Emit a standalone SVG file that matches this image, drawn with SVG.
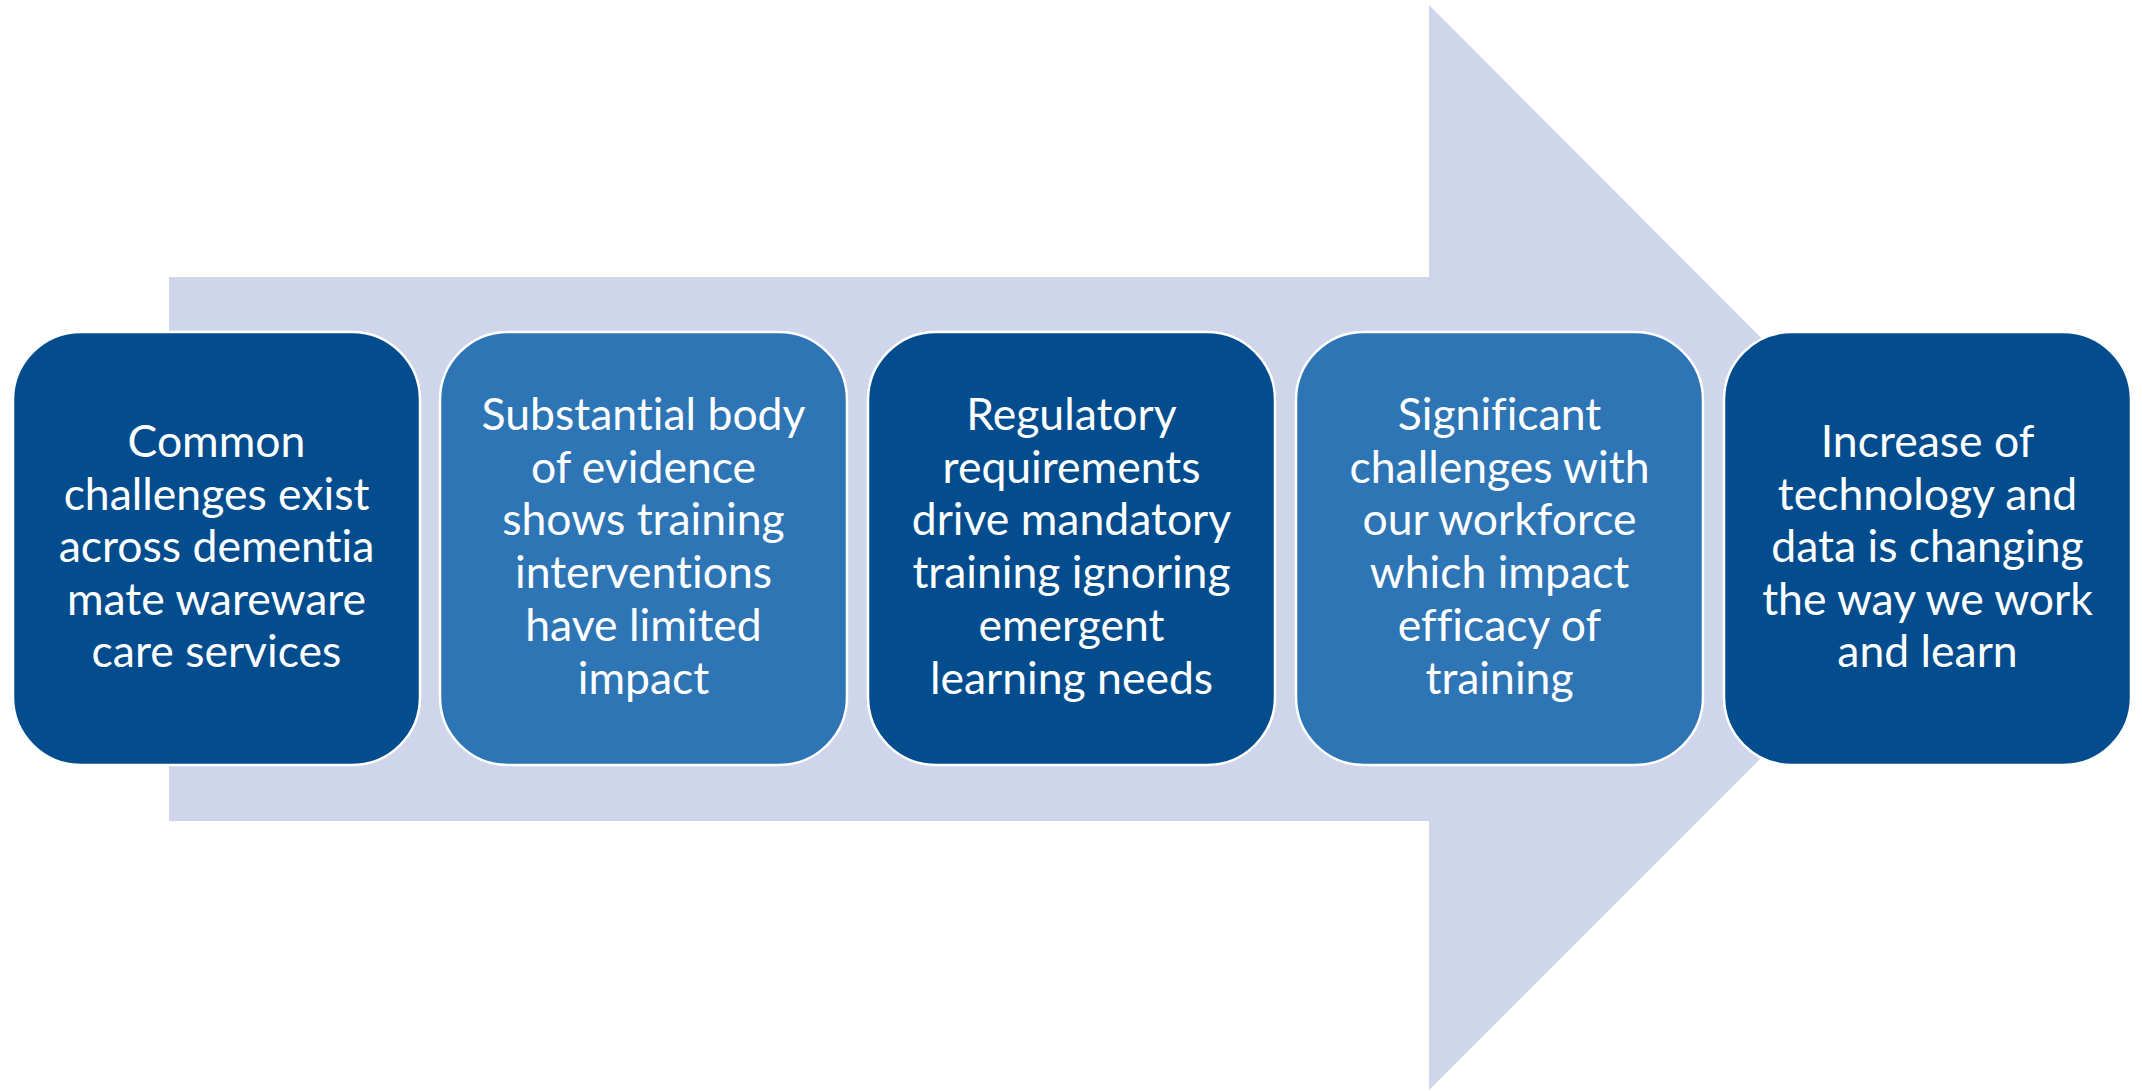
<svg xmlns="http://www.w3.org/2000/svg" width="2142" height="1091" viewBox="0 0 2142 1091">
<style>
.box{stroke:#ffffff;stroke-width:2.5}
.dark{fill:#034D8E}
.light{fill:#2E75B6}
.lbl{font-family:Lato,"Open Sans","Liberation Sans",sans-serif;font-size:44.5px;fill:#ffffff;text-anchor:middle;font-variant-ligatures:none;font-feature-settings:"liga" 0,"clig" 0,"dlig" 0}
</style>
<rect width="2142" height="1091" fill="#ffffff"/>
<g id="connectors">
<polygon points="169,277 1429,277 1429,5 1971,548 1429,1090 1429,821 169,821" fill="#CFD5EA"/>
</g>
<g id="node1">
<rect class="box dark" x="13" y="332" width="407" height="433" rx="68" ry="68"/>
<text class="lbl" x="216.5"><tspan x="216.5" y="457">Common</tspan><tspan x="216.5" y="509.5">challenges exist</tspan><tspan x="216.5" y="562">across dementia</tspan><tspan x="216.5" y="614.5">mate wareware</tspan><tspan x="216.5" y="667">care services</tspan></text>
</g>
<g id="node2">
<rect class="box light" x="440" y="332" width="407" height="433" rx="68" ry="68"/>
<text class="lbl"><tspan x="643.5" y="430">Substantial body</tspan><tspan x="643.5" y="482.7">of evidence</tspan><tspan x="643.5" y="535.4">shows training</tspan><tspan x="643.5" y="588.1">interventions</tspan><tspan x="643.5" y="640.8">have limited</tspan><tspan x="643.5" y="693.5">impact</tspan></text>
</g>
<g id="node3">
<rect class="box dark" x="868" y="332" width="407" height="433" rx="68" ry="68"/>
<text class="lbl"><tspan x="1071.5" y="430">Regulatory</tspan><tspan x="1071.5" y="482.7">requirements</tspan><tspan x="1071.5" y="535.4">drive mandatory</tspan><tspan x="1071.5" y="588.1">training ignoring</tspan><tspan x="1071.5" y="640.8">emergent</tspan><tspan x="1071.5" y="693.5">learning needs</tspan></text>
</g>
<g id="node4">
<rect class="box light" x="1296" y="332" width="407" height="433" rx="68" ry="68"/>
<text class="lbl"><tspan x="1499.5" y="430">Significant</tspan><tspan x="1499.5" y="482.7">challenges with</tspan><tspan x="1499.5" y="535.4">our workforce</tspan><tspan x="1499.5" y="588.1">which impact</tspan><tspan x="1499.5" y="640.8">efficacy of</tspan><tspan x="1499.5" y="693.5">training</tspan></text>
</g>
<g id="node5">
<rect class="box dark" x="1724" y="332" width="407" height="433" rx="68" ry="68"/>
<text class="lbl"><tspan x="1927.5" y="457">Increase of</tspan><tspan x="1927.5" y="509.5">technology and</tspan><tspan x="1927.5" y="562">data is changing</tspan><tspan x="1927.5" y="614.5">the way we work</tspan><tspan x="1927.5" y="667">and learn</tspan></text>
</g>
</svg>
